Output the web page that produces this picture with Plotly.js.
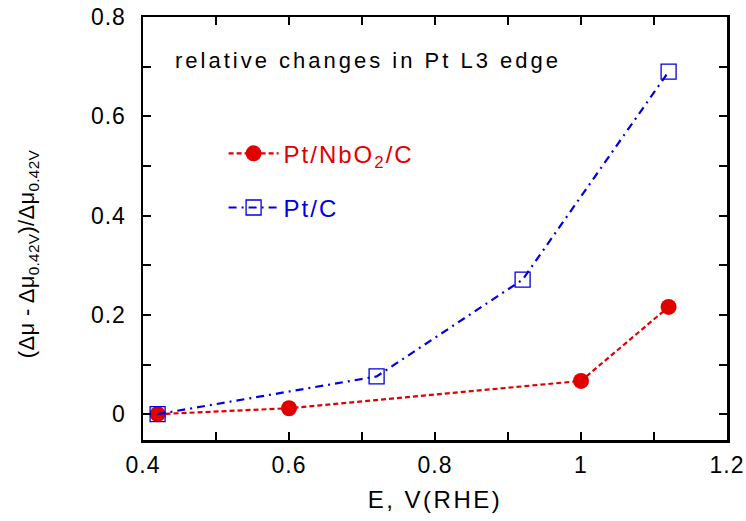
<!DOCTYPE html>
<html>
<head>
<meta charset="utf-8">
<script src="https://cdn.plot.ly/plotly-3.0.1.min.js"></script>
<style>
html,body{margin:0;padding:0;background:#fff;}
#plot .xtick text, #plot .ytick text{letter-spacing:1px;}
#plot .annotation[data-index="0"] .annotation-text{letter-spacing:3px;}
#plot .annotation[data-index="1"] .annotation-text{letter-spacing:0.3px;}
#plot .legendtext{letter-spacing:2px;}
#plot .g-xtitle text{letter-spacing:2.5px;}
#plot .legend .scrollbox, #plot .legend{clip-path:none !important;}
</style>
</head>
<body>
<div id="plot" style="width:746px;height:521px;"></div>
<script>
// Data
const ptNbO2_E = [0.42, 0.6, 1.0, 1.12];
const ptNbO2_val = [0.0, 0.012, 0.067, 0.216];
const ptC_E = [0.42, 0.72, 0.92, 1.12];
const ptC_val = [0.0, 0.076, 0.271, 0.690];
const seriesNames = ['Pt/NbO<sub>2</sub>/C', 'Pt/C'];
const xTickVals = [0.4, 0.5, 0.6, 0.7, 0.8, 0.9, 1.0, 1.1, 1.2];
const xTickText = ['0.4', '', '0.6', '', '0.8', '', '1', '', '1.2'];
const yTickVals = [0, 0.1, 0.2, 0.3, 0.4, 0.5, 0.6, 0.7, 0.8];
const yTickText = ['0', '', '0.2', '', '0.4', '', '0.6', '', '0.8'];
const chartNote = 'relative changes in Pt L3 edge';
const xTitle = 'E, V(RHE)';
const yTitle = '(Δμ - Δμ<sub>0.42V</sub>)/Δμ<sub>0.42V</sub>';

const RED = '#e00000';
const BLUE = '#0000e0';
const FONT = 'Liberation Sans, Arial, sans-serif';

const traces = [
  {
    x: ptNbO2_E, y: ptNbO2_val, type: 'scatter', mode: 'lines+markers',
    name: '<span style="color:' + RED + '">' + seriesNames[0] + '</span>',
    legendgroup: 'a',
    line: {color: RED, width: 2.2, dash: '5px,3px'},
    marker: {symbol: 'circle', size: 16, color: RED, line: {width: 0}}
  },
  {
    x: ptC_E, y: ptC_val, type: 'scatter', mode: 'lines+markers',
    name: '<span style="color:' + BLUE + '">' + seriesNames[1] + '</span>',
    legendgroup: 'b',
    line: {color: BLUE, width: 2.2, dash: '8px,5px,2px,5px'},
    marker: {symbol: 'square-open', size: 15, color: BLUE, line: {width: 1.3, color: BLUE}}
  }
];

const axisCommon = {
  showgrid: false, zeroline: false, showline: true, linecolor: '#000', linewidth: 2.5,
  mirror: 'allticks', ticks: 'inside', ticklen: 8, tickwidth: 2, tickcolor: '#000',
  tickfont: {family: FONT, size: 23, color: '#000'}, tickmode: 'array'
};

const layout = {
  width: 746, height: 521,
  margin: {l: 143, r: 19, t: 17, b: 81},
  paper_bgcolor: '#fff', plot_bgcolor: '#fff',
  showlegend: true,
  legend: {
    x: 0.138, y: 0.73, xanchor: 'left', yanchor: 'top',
    font: {family: FONT, size: 24},
    bgcolor: 'rgba(0,0,0,0)', borderwidth: 0,
    traceorder: 'grouped', tracegroupgap: 20, itemwidth: 50
  },
  xaxis: Object.assign({}, axisCommon, {
    range: [0.4, 1.2], tickvals: xTickVals, ticktext: xTickText,
    ticklabelstandoff: 3,
    title: {text: xTitle, font: {family: FONT, size: 24, color: '#000'}, standoff: 14}
  }),
  yaxis: Object.assign({}, axisCommon, {
    range: [-0.052, 0.8], tickvals: yTickVals, ticktext: yTickText,
    ticklabelstandoff: 10,
    title: {text: ''}
  }),
  annotations: [
    {
      text: chartNote, xref: 'paper', yref: 'paper', x: 0.386, y: 0.898,
      xanchor: 'center', yanchor: 'middle', showarrow: false,
      font: {family: FONT, size: 22, color: '#000'}
    },
    {
      text: yTitle, xref: 'paper', yref: 'paper', x: -0.197, y: 0.44,
      xanchor: 'center', yanchor: 'middle', showarrow: false, textangle: -90,
      font: {family: FONT, size: 22, color: '#000'}
    }
  ]
};

Plotly.newPlot('plot', traces, layout, {displayModeBar: false, staticPlot: true});
</script>
</body>
</html>
